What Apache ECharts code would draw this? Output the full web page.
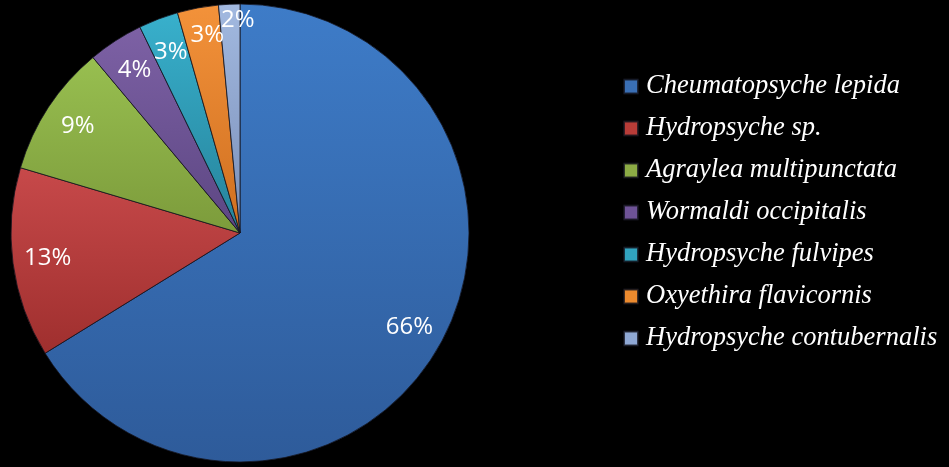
<!DOCTYPE html>
<html><head><meta charset="utf-8">
<script src="https://cdn.jsdelivr.net/npm/echarts@6/dist/echarts.min.js"></script>
<style>html,body{margin:0;padding:0;background:#000}#c{width:949px;height:467px}</style>
</head><body><div id="c"></div>
<script>
const categories = ['Cheumatopsyche lepida','Hydropsyche sp.','Agraylea multipunctata','Wormaldi occipitalis','Hydropsyche fulvipes','Oxyethira flavicornis','Hydropsyche contubernalis'];
const values = [66.2, 13.4, 9.3, 3.9, 2.8, 2.9, 1.5];

const topColors = ['#3e7cc8','#c7494a','#98bf50','#7d61a5','#38b0cc','#f3923a','#a2b9e0'];
const botColors = ['#2e5b9a','#9f2f2e','#7c9b3b','#5c4682','#26829a','#cf6f20','#7a8fb8'];
const legendColors = ['#3a6fb5','#b83c38','#8cab45','#6e5397','#31a3bf','#ec8a2e','#8fa8d4'];

function grad(i){
  return new echarts.graphic.LinearGradient(0,0,0,1,[{offset:0,color:topColors[i]},{offset:1,color:botColors[i]}]);
}
const pieData = categories.map((n,i)=>({name:n,value:values[i],itemStyle:{color:grad(i)}}));
const labelData = categories.map((n,i)=>({name:n,value:values[i]}));
// the two narrowest slices carry their labels nearer the rim, as in the reference
labelData[5].label = {offset:[3,-7]};
labelData[6].label = {offset:[7,-19]};

const chart = echarts.init(document.getElementById('c'));
chart.setOption({
  backgroundColor:'#000',
  animation:false,
  legend:{
    orient:'vertical', left:618, top:68,
    itemWidth:14, itemHeight:14, itemGap:15,
    icon:'rect',
    data: categories.map((n,i)=>({name:n,itemStyle:{color:legendColors[i]}})),
    textStyle:{color:'#fff',fontFamily:'Liberation Serif',fontStyle:'italic',fontSize:26.5,padding:[0,0,0,3]}
  },
  series:[
    {type:'pie',center:[240,233],radius:229,startAngle:90,clockwise:true,
     label:{show:false},labelLine:{show:false},
     itemStyle:{borderColor:'rgba(20,20,30,0.8)',borderWidth:1},
     emphasis:{disabled:true},
     data:pieData},
    {type:'pie',center:[240,233],radius:[153,229],startAngle:90,clockwise:true,
     silent:true,percentPrecision:0,avoidLabelOverlap:false,
     labelLayout:{hideOverlap:false},
     itemStyle:{color:'rgba(0,0,0,0)',borderWidth:0},
     label:{show:true,position:'inside',formatter:'{d}%',color:'#fff',fontFamily:'Open Sans',fontSize:24},
     labelLine:{show:false},
     emphasis:{disabled:true},
     data:labelData}
  ]
});
</script></body></html>
